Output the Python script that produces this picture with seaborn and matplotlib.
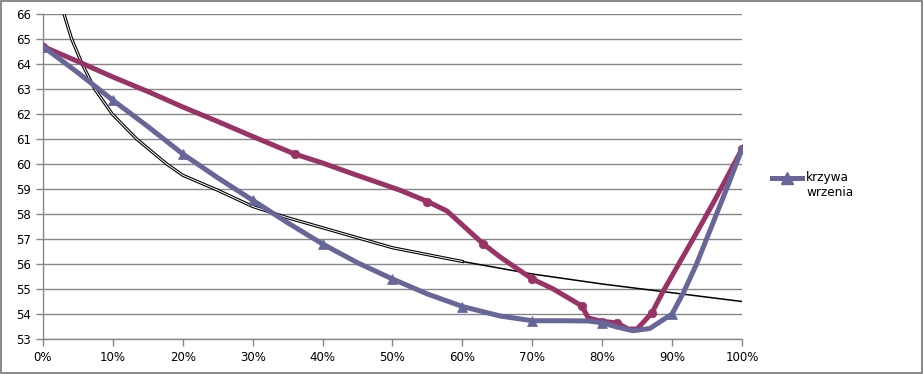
import numpy as np
import pandas as pd
import matplotlib
matplotlib.use("Agg")
import matplotlib.pyplot as plt
import seaborn as sns
from matplotlib.patches import Rectangle
from matplotlib.lines import Line2D
from matplotlib.ticker import PercentFormatter

# krzywa wrzenia (niebieska)
x_wrz = [0, 0.05, 0.1, 0.15, 0.2, 0.25, 0.3, 0.35, 0.4, 0.45, 0.5, 0.55, 0.6, 0.654,
         0.7, 0.75, 0.78, 0.8, 0.821, 0.844, 0.868, 0.9, 0.917, 0.935, 0.96, 0.98, 1.0]
y_wrz = [64.7, 63.65, 62.55, 61.5, 60.4, 59.45, 58.55, 57.65, 56.8, 56.05, 55.4, 54.8, 54.3, 53.92,
         53.73, 53.73, 53.72, 53.65, 53.48, 53.33, 53.42, 54.0, 54.9, 56.0, 57.75, 59.15, 60.6]
x_wrz_pkt = [0, 0.1, 0.2, 0.3, 0.4, 0.5, 0.6, 0.7, 0.8, 0.9, 1.0]
y_wrz_pkt = [64.7, 62.55, 60.4, 58.55, 56.8, 55.4, 54.3, 53.73, 53.65, 54.0, 60.6]

# krzywa rosy (czerwona)
x_ros = [0, 0.05, 0.1, 0.15, 0.2, 0.25, 0.3, 0.36, 0.4, 0.44, 0.51, 0.55, 0.578, 0.63,
         0.654, 0.7, 0.73, 0.771, 0.78, 0.797, 0.821, 0.837, 0.85, 0.871, 0.887, 0.93, 0.96, 1.0]
y_ros = [64.7, 64.1, 63.48, 62.9, 62.28, 61.7, 61.1, 60.4, 60.04, 59.64, 58.96, 58.5, 58.12, 56.8,
         56.28, 55.4, 55.0, 54.32, 53.84, 53.72, 53.64, 53.4, 53.4, 54.04, 54.9, 57.0, 58.5, 60.6]
x_ros_pkt = [0, 0.36, 0.55, 0.63, 0.7, 0.771, 0.8, 0.821, 0.871, 1.0]
y_ros_pkt = [64.7, 60.4, 58.5, 56.8, 55.4, 54.32, 53.7, 53.64, 54.04, 60.6]

# czarna krzywa
x_cz = [0.022, 0.030, 0.041, 0.056, 0.074, 0.099, 0.134, 0.177, 0.2, 0.25, 0.3, 0.35,
        0.4, 0.45, 0.5, 0.6, 0.7, 0.8, 0.9, 1.0]
y_cz = [67.3, 66.0, 65.0, 64.0, 63.0, 62.0, 61.0, 60.0, 59.55, 58.95, 58.3, 57.85,
        57.45, 57.05, 56.65, 56.1, 55.6, 55.2, 54.85, 54.5]

y_ticks = list(range(53, 67))
x_ticks = [i / 10 for i in range(11)]

blue = "#666699"
red = "#993366"
grid = "#868686"

fig = plt.figure(figsize=(9.23, 3.74), dpi=100)
ax = fig.add_axes([43 / 923, 1 - 339 / 374, 699 / 923, 325 / 374])

df_cz = pd.DataFrame({"x": x_cz, "y": y_cz})
lewa = df_cz[df_cz.x <= 0.6]
prawa = df_cz[df_cz.x >= 0.6]
sns.lineplot(data=lewa, x="x", y="y", ax=ax, color="black", lw=2.3, sort=False, zorder=2,
             solid_joinstyle="round")
sns.lineplot(data=lewa, x="x", y="y", ax=ax, color="white", lw=0.7, sort=False, zorder=2.1,
             solid_joinstyle="round")
sns.lineplot(data=prawa, x="x", y="y", ax=ax, color="black", lw=1.1, sort=False, zorder=2)

df_ros = pd.DataFrame({"x": x_ros, "y": y_ros})
sns.lineplot(data=df_ros, x="x", y="y", ax=ax, color=red, lw=3.6, sort=False, zorder=3,
             solid_joinstyle="round")
sns.scatterplot(x=x_ros_pkt, y=y_ros_pkt, ax=ax, color=red, marker="o", s=38,
                edgecolor=red, zorder=3.1)

df_wrz = pd.DataFrame({"x": x_wrz, "y": y_wrz})
sns.lineplot(data=df_wrz, x="x", y="y", ax=ax, color=blue, lw=3.6, sort=False, zorder=4,
             solid_joinstyle="round")
sns.scatterplot(x=x_wrz_pkt, y=y_wrz_pkt, ax=ax, color=blue, marker="^", s=50,
                edgecolor=blue, zorder=4.1)

ax.set_xlim(0, 1)
ax.set_ylim(53, 66)
ax.set_yticks(y_ticks)
ax.set_xticks(x_ticks)
ax.xaxis.set_major_formatter(PercentFormatter(1.0, decimals=0))
ax.set_xlabel("")
ax.set_ylabel("")
ax.grid(axis="y", color=grid, lw=1)
ax.set_axisbelow(True)
for s in ["top", "right"]:
    ax.spines[s].set_visible(False)
for s in ["left", "bottom"]:
    ax.spines[s].set_color(grid)
    ax.spines[s].set_linewidth(1)
ax.tick_params(axis="both", colors=grid, length=5, width=1, labelcolor="black", labelsize=8.5)

# legenda
fig.add_artist(Line2D([772 / 923, 802 / 923], [1 - 178 / 374] * 2, color=blue, lw=3.6))
fig.add_artist(Line2D([787 / 923], [1 - 178 / 374], color=blue, marker="^", markersize=8))
fig.text(806 / 923, 1 - 171 / 374, "krzywa\nwrzenia", fontsize=8.7, va="top", ha="left",
         linespacing=1.15)

fig.patches.append(Rectangle((0.0008, 0.002), 0.9984, 0.996, transform=fig.transFigure,
                             fill=False, edgecolor="#808080", lw=1.3))

fig.savefig("out.png", dpi=100)
